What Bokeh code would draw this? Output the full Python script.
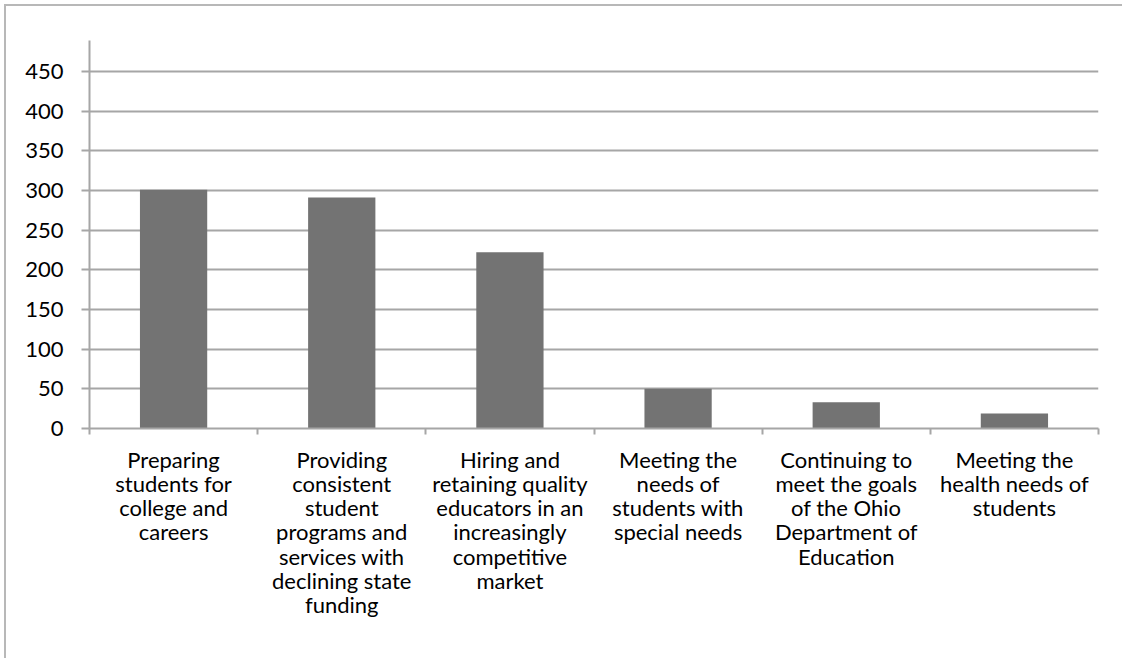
from bokeh.plotting import figure
from bokeh.models import Range1d, FixedTicker, LinearAxis, Grid
from bokeh.embed import file_html
from bokeh.resources import INLINE

categories = [
    "Preparing\nstudents for\ncollege and\ncareers",
    "Providing\nconsistent\nstudent\nprograms and\nservices with\ndeclining state\nfunding",
    "Hiring and\nretaining quality\neducators in an\nincreasingly\ncompetitive\nmarket",
    "Meeting the\nneeds of\nstudents with\nspecial needs",
    "Continuing to\nmeet the goals\nof the Ohio\nDepartment of\nEducation",
    "Meeting the\nhealth needs of\nstudents",
]
values = [301, 291, 222, 50, 33, 19]
y_ticks = [0, 50, 100, 150, 200, 250, 300, 350, 400, 450]

n = len(categories)
centers = [i + 0.5 for i in range(n)]
bounds = [float(i) for i in range(n + 1)]

FONT = "Lato"
GRID = "#a6a6a6"

p = figure(width=1118, height=654, output_backend="svg", toolbar_location=None,
           x_range=Range1d(0, n), y_range=Range1d(0, 489),
           x_axis_type=None, y_axis_type=None,
           min_border_left=83, min_border_right=26, min_border_top=34, min_border_bottom=232)
p.outline_line_color = None
p.background_fill_color = "white"
p.border_fill_color = "white"
p.styles = {"border-top": "2px solid #b8b8b8", "border-left": "2px solid #b8b8b8",
            "margin-left": "4px", "margin-top": "4px"}

# y axis
yax = LinearAxis(ticker=FixedTicker(ticks=y_ticks))
yax.axis_line_color = GRID
yax.axis_line_width = 2
yax.major_tick_line_color = GRID
yax.major_tick_line_width = 2
yax.major_tick_out = 8
yax.major_tick_in = 0
yax.minor_tick_line_color = None
yax.major_label_standoff = 18
yax.major_label_text_font = FONT
yax.major_label_text_font_size = "22px"
yax.major_label_text_color = "black"
p.add_layout(yax, "left")

# x axis: labels at centres, ticks at boundaries
xax = LinearAxis(ticker=FixedTicker(ticks=centers, minor_ticks=bounds))
xax.major_label_overrides = {c: lab for c, lab in zip(centers, categories)}
xax.axis_line_color = GRID
xax.axis_line_width = 2
xax.major_tick_line_color = None
xax.minor_tick_line_color = GRID
xax.minor_tick_line_width = 2
xax.minor_tick_out = 6
xax.minor_tick_in = 0
xax.major_label_standoff = 11
xax.major_label_text_font = FONT
xax.major_label_text_font_size = "22px"
xax.major_label_text_color = "black"
xax.major_label_text_line_height = 0.9
p.add_layout(xax, "below")

g = Grid(dimension=1, ticker=FixedTicker(ticks=y_ticks[1:]), grid_line_color=GRID, grid_line_width=2)
p.add_layout(g)

p.vbar(x=centers, top=values, width=0.4, bottom=0, fill_color="#737373", line_color=None)

open("out.html", "w").write(file_html(p, INLINE))
